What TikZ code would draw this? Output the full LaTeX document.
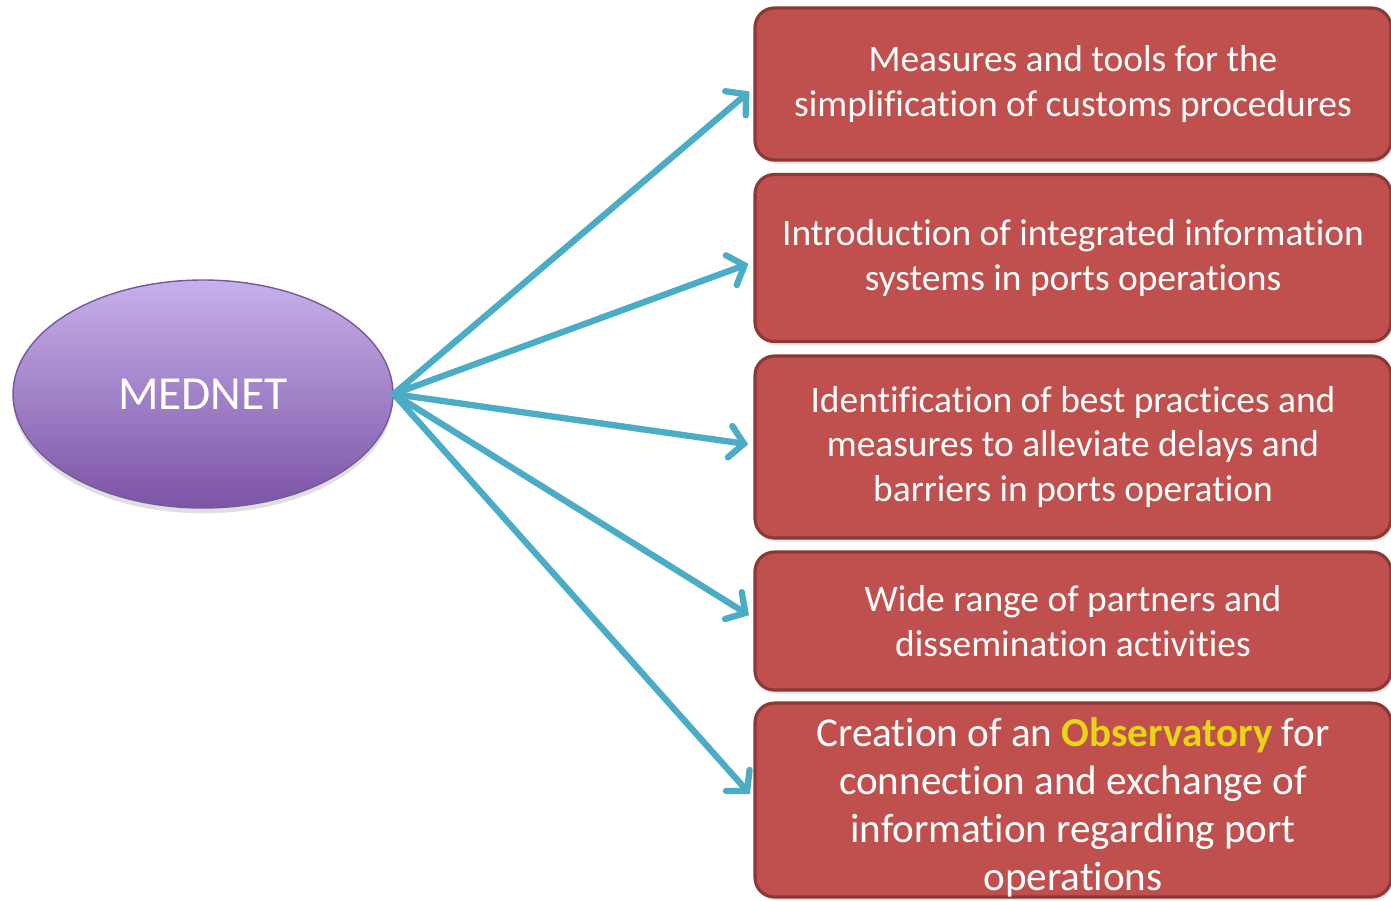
\documentclass[tikz,border=0pt]{standalone}
\usepackage{fontspec}
\setmainfont{Carlito}[Ligatures=NoCommon]
\usepackage{tikz}
\usetikzlibrary{positioning, arrows.meta, shapes.geometric, shadows}
\definecolor{boxred}{RGB}{192,80,77}
\definecolor{boxedge}{RGB}{140,56,54}
\definecolor{arrblue}{RGB}{75,172,198}
\definecolor{purtop}{RGB}{199,176,235}
\definecolor{purbot}{RGB}{124,84,166}
\definecolor{puredge}{RGB}{118,88,156}
\definecolor{obsyellow}{RGB}{230,214,20}
\tikzset{hub/.style={ellipse, draw=puredge, line width=0.8pt, top color=purtop, bottom color=purbot, text=white, font=\fontsize{27}{32}\selectfont, minimum width=380*0.02cm, minimum height=228*0.02cm, drop shadow={opacity=0.25, shadow xshift=0pt, shadow yshift=-3pt}}}
\tikzset{goal/.style={draw=boxedge, line width=1.8pt, fill=boxred, rounded corners=11pt, text=white, align=center, minimum width=636*0.02cm, font=\fontsize{21.3}{25.2}\selectfont, drop shadow={opacity=0.2, shadow xshift=1pt, shadow yshift=-2pt}}}
\tikzset{arr/.style={draw=arrblue, line width=3.6pt, line cap=round, -{Straight Barb[length=8pt, width=18pt, line cap=round]}, shorten >=3pt}}
\begin{document}
\begin{tikzpicture}[x=0.02cm, y=-0.02cm]
	\useasboundingbox (0,0) rectangle (1391,900);
	\node[hub] (mednet) at (203,394) {MEDNET};

	\node[goal, minimum height=152*0.02cm] (g1) at (1073,84) {Measures and tools for the\\simplification of customs procedures};
	\node[goal, minimum height=167*0.02cm] (g2) at (1073,258) {Introduction of integrated information\\systems in ports operations};
	\node[goal, minimum height=182*0.02cm] (g3) at (1073,447) {Identification of best practices and\\measures to alleviate delays and\\barriers in ports operation};
	\node[goal, minimum height=138*0.02cm] (g4) at (1073,621) {Wide range of partners and\\dissemination activities};
	\node[goal, minimum height=193*0.02cm, inner ysep=0pt, font=\fontsize{23.4}{27.2}\selectfont] (g5) at (1073,800)
		{\rule{0pt}{25pt}Creation of an \textbf{\color{obsyellow}Observatory} for\\connection and exchange of\\information regarding port\\operations};

	% \foreach \g in {g1,...,g5} \draw[arr] (mednet.east) to (\g.west);
	\draw[arr] (mednet.east) to ([yshift=-4*0.02cm]g1.west);
	\draw[arr] (mednet.east) to ([yshift=-4*0.02cm]g2.west);
	\draw[arr] (mednet.east) to ([yshift=2*0.02cm]g3.west);
	\draw[arr] (mednet.east) to ([yshift=3*0.02cm]g4.west);
	\draw[arr] (mednet.east) to ([yshift=2*0.02cm]g5.west);
\end{tikzpicture}
\end{document}
